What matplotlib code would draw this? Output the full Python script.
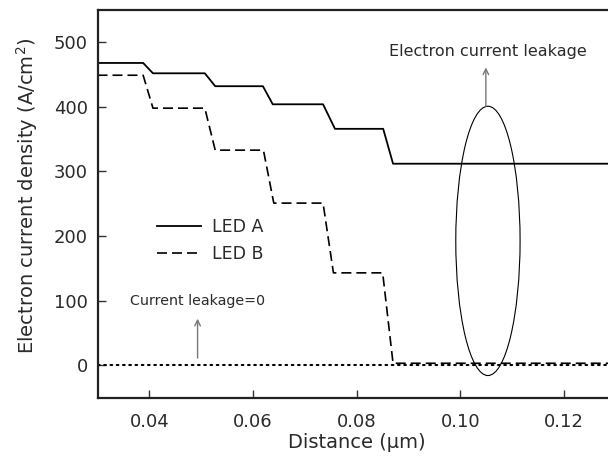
import matplotlib
matplotlib.use("Agg")
import matplotlib.pyplot as plt
from matplotlib.patches import Ellipse

# ---- data ----
led_a_x = [0.030, 0.0388, 0.0407, 0.0507, 0.0527, 0.0619, 0.0638, 0.0735, 0.0758, 0.0851, 0.0870, 0.130]
led_a_y = [468, 468, 452, 452, 432, 432, 404, 404, 366, 366, 312, 312]

led_b_x = [0.030, 0.0388, 0.0407, 0.0507, 0.0527, 0.0620, 0.0640, 0.0735, 0.0755, 0.0850, 0.0870, 0.130]
led_b_y = [449, 449, 398, 398, 333, 333, 251, 251, 143, 143, 3, 3]

zero_x = [0.030, 0.130]
zero_y = [0, 0]

series_labels = ["LED A", "LED B"]
x_ticks = [0.04, 0.06, 0.08, 0.10, 0.12]
x_tick_labels = ["0.04", "0.06", "0.08", "0.10", "0.12"]
y_ticks = [0, 100, 200, 300, 400, 500]
y_tick_labels = ["0", "100", "200", "300", "400", "500"]

ellipse_center = (0.1053, 192.5)
ellipse_size = (0.0124, 417)

text_col = "#2a2a2a"
plt.rcParams['font.family'] = ['DejaVu Sans']

fig = plt.figure(figsize=(6.08, 4.67), dpi=100)
ax = fig.add_axes([97.5 / 608, (467 - 397.5) / 467, (616 - 97.5) / 608, (397.5 - 10) / 467])

ax.plot(led_a_x, led_a_y, color="black", lw=1.3, solid_joinstyle="round", label=series_labels[0])
ax.plot(led_b_x, led_b_y, color="black", lw=1.2, dashes=(6, 3), label=series_labels[1])
ax.plot(zero_x, zero_y, color="black", lw=1.5, linestyle=(0, (0.8, 2.2)), dash_capstyle="round")

ax.add_patch(Ellipse(ellipse_center, ellipse_size[0], ellipse_size[1], fill=False,
                     edgecolor="black", lw=0.8))

ax.annotate("", xy=(0.1049, 461), xytext=(0.1049, 401),
            arrowprops=dict(arrowstyle="->", color="#777777", lw=1.0, shrinkA=0, shrinkB=0))
ax.annotate("", xy=(0.0493, 72), xytext=(0.0493, 11),
            arrowprops=dict(arrowstyle="->", color="#777777", lw=1.0, shrinkA=0, shrinkB=0))

ax.text(0.1052, 478, "Electron current leakage", ha="center", va="baseline",
        fontsize=11.5, color=text_col)
ax.text(0.0493, 93, "Current leakage=0", ha="center", va="baseline",
        fontsize=10.3, color=text_col)

ax.set_xlim(0.03, 0.13)
ax.set_ylim(-50, 550)
ax.set_xticks(x_ticks)
ax.set_xticklabels(x_tick_labels)
ax.set_yticks(y_ticks)
ax.set_yticklabels(y_tick_labels)
ax.tick_params(direction="in", length=6, width=1.0, colors="#333333",
               labelsize=13, labelcolor=text_col)
ax.tick_params(axis="x", pad=11)
ax.tick_params(axis="y", pad=7)

for s in ax.spines.values():
    s.set_linewidth(1.6)
    s.set_color("#222222")

ax.set_xlabel("Distance (μm)", fontsize=14, color=text_col)
ax.set_ylabel("Electron current density (A/cm$^2$)", fontsize=14, color=text_col)
ax.xaxis.set_label_coords(0.5, -0.092)
ax.yaxis.set_label_coords(-0.11, 0.52)

leg = ax.legend(loc="upper left", bbox_to_anchor=(0.1153, 0.462), frameon=False,
                fontsize=12.5, handlelength=2.5, handletextpad=0.65,
                borderpad=0, borderaxespad=0, labelspacing=0.5)
for t in leg.get_texts():
    t.set_color(text_col)

fig.savefig("out.png", dpi=100)
